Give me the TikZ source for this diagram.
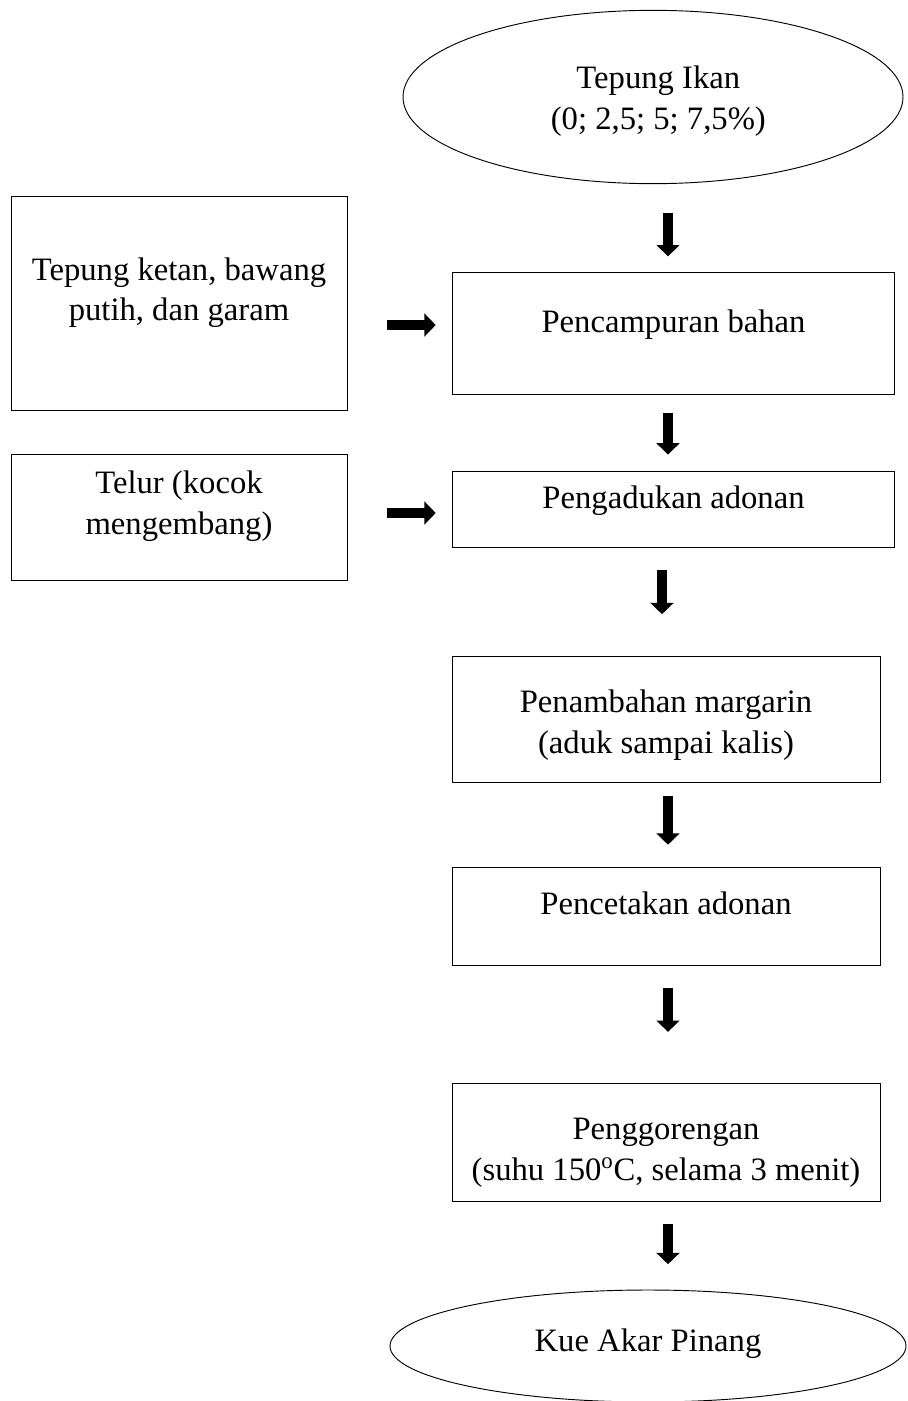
\documentclass[tikz,border=0pt]{standalone}
\usepackage{fontspec}
\setmainfont{Liberation Serif}
\usetikzlibrary{shapes.geometric, arrows.meta}

\begin{document}
\begin{tikzpicture}[x = 0.75pt, y = -0.75pt,
	font = \fontsize{24.5}{30.5}\selectfont,
	box/.style = {draw, line width = 0.7pt, inner sep = 0pt},
	oval/.style = {draw, ellipse, line width = 0.7pt, inner sep = 0pt},
	flow/.style = {line width = 7.5pt, -{Triangle[width = 17pt, length = 8.5pt]}}]

	% Canvas
	
	\useasboundingbox (0, 0) rectangle (907, 1401);

	% Arrow columns and rows
	
	\coordinate (axis) at (668, 0);
	\coordinate (axisB) at (662, 0);
	\coordinate (rowA) at (0, 325);
	\coordinate (rowB) at (0, 513);

	% Main input
	
	\node [oval, minimum width = 375pt, minimum height = 130pt,
		label = {[align = center, xshift = 4pt, yshift = -3pt]center:Tepung Ikan\\(0; 2,5; 5; 7,5\%)}] (ikan) at (653, 97) {};

	% Side inputs
	
	\node [box, minimum width = 252pt, minimum height = 161pt,
		label = {[align = center, yshift = 8pt]center:Tepung ketan, bawang\\putih, dan garam}] (ketan) at (179, 303.5) {};
	\node [box, minimum width = 252pt, minimum height = 94pt,
		label = {[align = center, yshift = 8.5pt]center:Telur (kocok\\mengembang)}] (telur) at (179, 517.5) {};

	% Process steps
	
	\node [box, minimum width = 332pt, minimum height = 91pt,
		label = {[yshift = 6.5pt]center:Pencampuran bahan}] (campur) at (673.5, 333.5) {};
	\node [box, minimum width = 332pt, minimum height = 57pt,
		label = {[yshift = 6pt]center:Pengadukan adonan}] (aduk) at (673.5, 509) {};
	\node [box, minimum width = 321pt, minimum height = 94.5pt,
		label = {[align = center, yshift = -4.5pt]center:Penambahan margarin\\(aduk sampai kalis)}] (margarin) at (666, 719) {};
	\node [box, minimum width = 321pt, minimum height = 73pt,
		label = {[yshift = 10pt]center:Pencetakan adonan}] (cetak) at (666, 916.5) {};
	\node [box, minimum width = 321pt, minimum height = 88.5pt,
		label = {[align = center, yshift = -8pt]center:Penggorengan\\(suhu 150\textsuperscript{o}C, selama 3 menit)}] (goreng) at (666, 1142) {};

	% Product
	
	\node [oval, minimum width = 387pt, minimum height = 84pt,
		label = {[yshift = 1.5pt]center:Kue Akar Pinang}] (kue) at (648, 1346) {};

	% Flow arrows
	
	\draw [flow, shorten <= 22pt, shorten >= 12pt] (ikan.south -| axis) -- (campur.north -| axis);
	\draw [flow, shorten <= 14pt, shorten >= 12pt] (campur.south -| axis) -- (aduk.north -| axis);
	\draw [flow, shorten <= 17pt, shorten >= 31pt] (aduk.south -| axisB) -- (margarin.north -| axisB);
	\draw [flow, shorten <= 10pt, shorten >= 17pt] (margarin.south -| axis) -- (cetak.north -| axis);
	\draw [flow, shorten <= 16.5pt, shorten >= 38pt] (cetak.south -| axis) -- (goreng.north -| axis);
	\draw [flow, shorten <= 17pt, shorten >= 19pt] (goreng.south -| axis) -- (kue.north -| axis);

	\draw [flow, shorten <= 30pt, shorten >= 12pt] (ketan.east |- rowA) -- (campur.west |- rowA);
	\draw [flow, shorten <= 30pt, shorten >= 12pt] (telur.east |- rowB) -- (aduk.west |- rowB);

\end{tikzpicture}
\end{document}
